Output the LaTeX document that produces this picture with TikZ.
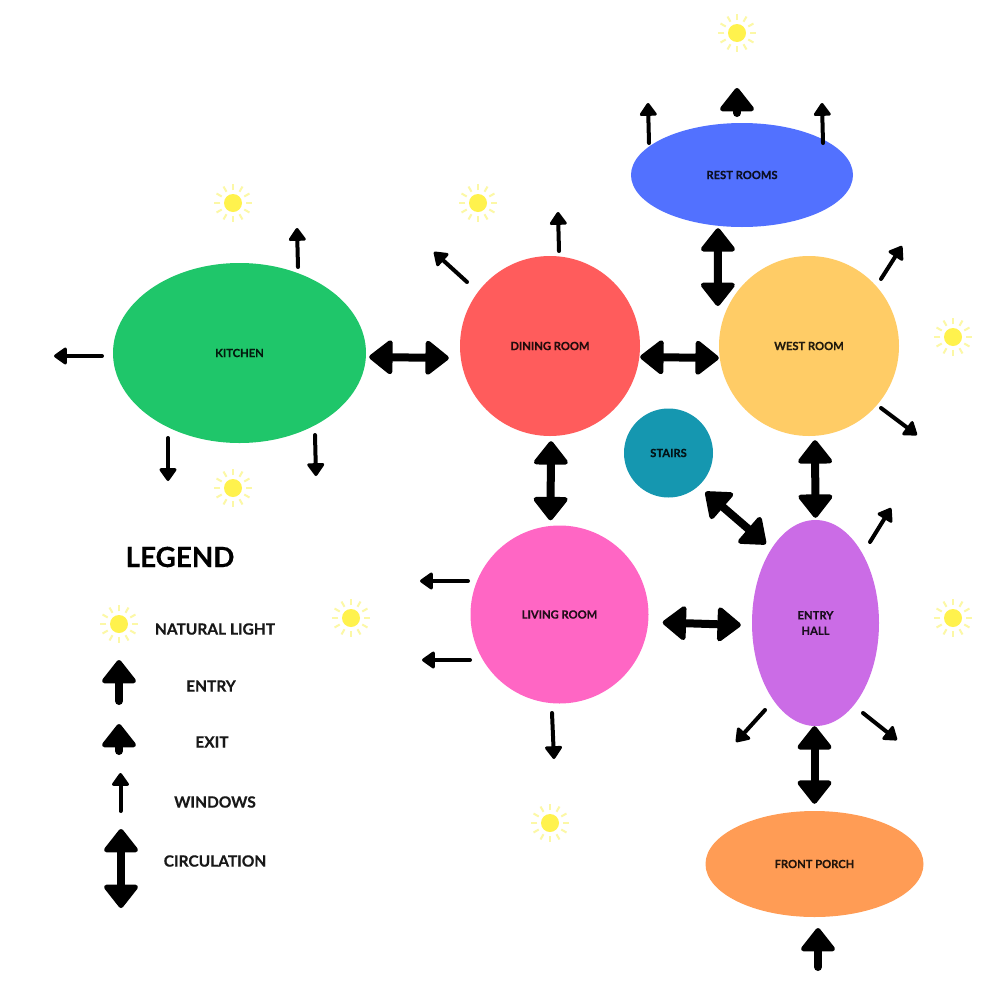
\documentclass[tikz,border=0pt]{standalone}
\usepackage{fontspec}
\setmainfont{Lato}[BoldFeatures={FakeBold=0.35}]
\usetikzlibrary{arrows.meta,shapes.geometric,calc}
\definecolor{cKitchen}{HTML}{1FC66A}
\definecolor{cDining}{HTML}{FF5C5C}
\definecolor{cWest}{HTML}{FFCC66}
\definecolor{cRest}{HTML}{5271FF}
\definecolor{cStairs}{HTML}{1597B0}
\definecolor{cLiving}{HTML}{FF66C4}
\definecolor{cEntry}{HTML}{CB6CE6}
\definecolor{cPorch}{HTML}{FF9C55}
\definecolor{sunCore}{HTML}{FFF24D}
\definecolor{sunRay}{HTML}{FCF8A6}
\tikzset{
  x=1pt,y=-1pt,
  room/.style={ellipse,inner sep=0pt,align=center,font=\fontsize{11.2}{15.5}\selectfont\bfseries,text=black,text opacity=.85},
  legendlabel/.style={font=\fontsize{15.5}{17}\selectfont\bfseries,text=black,inner sep=0pt,text opacity=.9},
  winarrow/.style={line width=4pt,line cap=round,-{Triangle[length=14pt,width=19pt,line width=3pt,round]}},
  bighead/.tip={Triangle[length=25pt,width=38pt,line width=5pt,round]},
  entryarrow/.style={line width=8pt,line cap=round,-bighead},
  circarrow/.style={line width=8pt,line cap=round,bighead-bighead},
  sun/.pic={
    \fill[sunCore] (0,0) circle (9);
    \foreach \a in {0,30,...,330}
      \draw[sunRay,line width=2pt] (\a:13) -- (\a:19);
  }
}
\newcommand{\wind}[3]{%
  \coordinate (w#1a) at (#2);
  \coordinate (w#1b) at (#3);
  \draw[winarrow] (w#1a) -- (w#1b);}
\begin{document}
\begin{tikzpicture}
\useasboundingbox (0,0) rectangle (1007,1007);
\fill[white] (0,0) rectangle (1007,1007);
% rooms
\node[room,fill=cKitchen,minimum width=253,minimum height=180] (kitchen) at (239.5,353) {\raisebox{-1pt}{KITCHEN}};
\node[room,fill=cDining,minimum width=180,minimum height=180] (dining) at (550,346) {\raisebox{-1pt}{DINING ROOM}};
\node[room,fill=cWest,minimum width=180,minimum height=180] (west) at (809,346) {\raisebox{-1pt}{WEST ROOM}};
\node[room,fill=cRest,minimum width=222,minimum height=104] (rest) at (742,175) {\raisebox{-1pt}{REST ROOMS}};
\node[room,fill=cStairs,minimum width=89,minimum height=89] (stairs) at (668.5,453) {\raisebox{-1pt}{STAIRS}};
\node[room,fill=cLiving,minimum width=178,minimum height=178] (living) at (559.5,614.5) {LIVING ROOM};
\node[room,fill=cEntry,minimum width=127,minimum height=206] (entry) at (815.5,623) {ENTRY\\HALL};
\node[room,fill=cPorch,minimum width=218,minimum height=106] (porch) at (814.5,864) {\raisebox{-1pt}{FRONT PORCH}};
% suns
\foreach \p in {(737,33),(233,203),(478,203),(953,337),(233,488),(351,618),(953,618),(550,823),(119,624)}
  \pic at \p {sun};
% circulation
\draw[circarrow] ($(kitchen.east)+(3,4)$) -- ($(dining.west)+(-11,12)$);
\draw[circarrow] ($(dining.east)+(0,11)$) -- ($(west.west)+(0,12)$);
\draw[circarrow] ($(rest.south)+(-24,1)$) -- ($(west.west)+(-1,-40)$);
\draw[circarrow] ($(dining.south)+(1,5)$) -- ($(living.north)+(-9,-5)$);
\draw[circarrow] ($(west.south)+(6,4)$) -- ($(entry.north)+(0,-2)$);
\draw[circarrow] ($(stairs.center)+(37,39)$) -- ($(entry.west)+(14,-79)$);
\draw[circarrow] ($(living.east)+(14,8)$) -- ($(entry.west)+(-11,2)$);
\draw[circarrow] ($(entry.south)+(-1,0)$) -- ($(porch.north)+(0,-7)$);
% windows
\wind{1}{298,267}{297,228}
\wind{2}{467,282}{434,252}
\wind{3}{559,251}{558,212}
\wind{4}{102,356}{54,356}
\wind{5}{168,438}{168,481}
\wind{6}{315,435}{316,476}
\wind{7}{881,279}{902,246}
\wind{8}{881,408}{917,435}
\wind{9}{870,542}{891,508}
\wind{10}{468,581}{420,581}
\wind{11}{470,660}{422,660}
\wind{12}{552,713}{554,759}
\wind{13}{765,710}{736,742}
\wind{14}{863,713}{897,740}
\wind{15}{649,143}{648,103}
\wind{16}{823,143}{822,103}
% exit and entry
\coordinate (exitA) at (737,113);
\coordinate (exitB) at (737,88);
\draw[entryarrow] (exitA) -- (exitB);
\coordinate (entA) at (818,967);
\coordinate (entB) at (818,928);
\draw[entryarrow] (entA) -- (entB);
% legend
\node[font=\fontsize{27.8}{30}\selectfont\bfseries,inner sep=0pt] (legendtitle) at (180,557) {LEGEND};
\node[legendlabel] (l1) at (215,629) {NATURAL LIGHT};
\node[legendlabel] (l2) at (211,686) {ENTRY};
\node[legendlabel] (l3) at (212,742) {EXIT};
\node[legendlabel] (l4) at (215,802) {WINDOWS};
\node[legendlabel] (l5) at (215,861) {CIRCULATION};
\coordinate (leA) at (119,701);
\coordinate (leB) at (119,660);
\draw[entryarrow] (leA) -- (leB);
\coordinate (lxA) at (119,751);
\coordinate (lxB) at (119,724);
\draw[entryarrow] (lxA) -- (lxB);
\wind{17}{120.5,811}{120.5,773}
\coordinate (lcA) at (121,829);
\coordinate (lcB) at (121,908);
\draw[circarrow] (lcA) -- (lcB);
\end{tikzpicture}
\end{document}
